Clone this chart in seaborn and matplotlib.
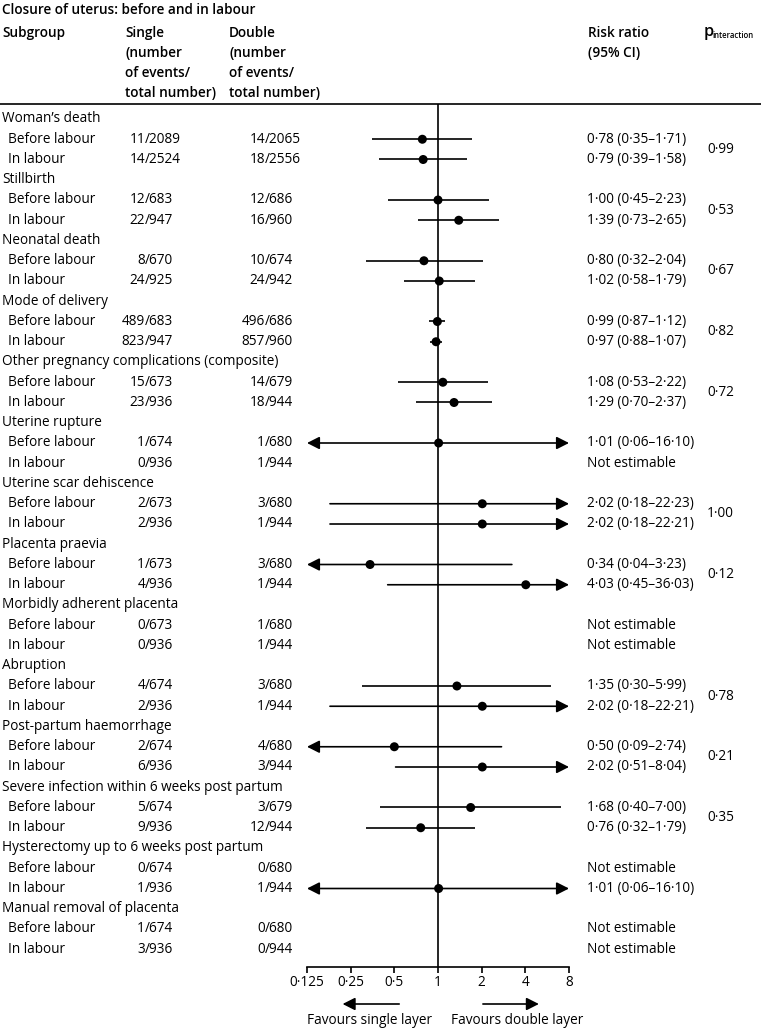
import numpy as np
import pandas as pd
import matplotlib
matplotlib.use("Agg")
import matplotlib.pyplot as plt
import matplotlib.transforms as mtransforms
from matplotlib.lines import Line2D
import seaborn as sns

# ---------------- data ----------------
groups = ["Woman\u2019s death", "Stillbirth", "Neonatal death", "Mode of delivery",
          "Other pregnancy complications (composite)", "Uterine rupture",
          "Uterine scar dehiscence", "Placenta praevia", "Morbidly adherent placenta",
          "Abruption", "Post-partum haemorrhage",
          "Severe infection within 6 weeks post partum",
          "Hysterectomy up to 6 weeks post partum", "Manual removal of placenta"]
subgroups = ["Before labour", "In labour"]

single_before_events = [11, 12, 8, 489, 15, 1, 2, 1, 0, 4, 2, 5, 0, 1]
single_before_totals = [2089, 683, 670, 683, 673, 674, 673, 673, 673, 674, 674, 674, 674, 674]
double_before_events = [14, 12, 10, 496, 14, 1, 3, 3, 1, 3, 4, 3, 0, 0]
double_before_totals = [2065, 686, 674, 686, 679, 680, 680, 680, 680, 680, 680, 679, 680, 680]
single_in_events = [14, 22, 24, 823, 23, 0, 2, 4, 0, 2, 6, 9, 1, 3]
single_in_totals = [2524, 947, 925, 947, 936, 936, 936, 936, 936, 936, 936, 936, 936, 936]
double_in_events = [18, 16, 24, 857, 18, 1, 1, 1, 1, 1, 3, 12, 1, 0]
double_in_totals = [2556, 960, 942, 960, 944, 944, 944, 944, 944, 944, 944, 944, 944, 944]

nan = np.nan
rr_before = [0.78, 1.00, 0.80, 0.99, 1.08, 1.01, 2.02, 0.34, nan, 1.35, 0.50, 1.68, nan, nan]
lo_before = [0.35, 0.45, 0.32, 0.87, 0.53, 0.06, 0.18, 0.04, nan, 0.30, 0.09, 0.40, nan, nan]
hi_before = [1.71, 2.23, 2.04, 1.12, 2.22, 16.10, 22.23, 3.23, nan, 5.99, 2.74, 7.00, nan, nan]
rr_in = [0.79, 1.39, 1.02, 0.97, 1.29, nan, 2.02, 4.03, nan, 2.02, 2.02, 0.76, 1.01, nan]
lo_in = [0.39, 0.73, 0.58, 0.88, 0.70, nan, 0.18, 0.45, nan, 0.18, 0.51, 0.32, 0.06, nan]
hi_in = [1.58, 2.65, 1.79, 1.07, 2.37, nan, 22.21, 36.03, nan, 22.21, 8.04, 1.79, 16.10, nan]
p_interaction = [0.99, 0.53, 0.67, 0.82, 0.72, nan, 1.00, 0.12, nan, 0.78, 0.21, 0.35, nan, nan]

x_ticks = [0.125, 0.25, 0.5, 1, 2, 4, 8]
x_tick_labels = ["0\u00b7125", "0\u00b725", "0\u00b75", "1", "2", "4", "8"]

title = "Closure of uterus: before and in labour"

# ---------------- table ----------------
recs = []
for i, g in enumerate(groups):
    recs.append(dict(row=3 * i, kind="group", label=g))
    recs.append(dict(row=3 * i + 1, kind="sub", label=subgroups[0],
                     s_ev=single_before_events[i], s_tot=single_before_totals[i],
                     d_ev=double_before_events[i], d_tot=double_before_totals[i],
                     rr=rr_before[i], lo=lo_before[i], hi=hi_before[i]))
    recs.append(dict(row=3 * i + 2, kind="sub", label=subgroups[1],
                     s_ev=single_in_events[i], s_tot=single_in_totals[i],
                     d_ev=double_in_events[i], d_tot=double_in_totals[i],
                     rr=rr_in[i], lo=lo_in[i], hi=hi_in[i]))
df = pd.DataFrame(recs)

def fmt(v):
    return f"{v:.2f}".replace(".", "\u00b7")

# ---------------- style ----------------
sns.set_theme(style="white")
plt.rcParams["font.family"] = ["Open Sans", "DejaVu Sans"]
plt.rcParams["text.color"] = "black"

W, H = 761, 1030
fig = plt.figure(figsize=(W / 100, H / 100), dpi=100)
fig.patch.set_facecolor("white")

FS = 9.8
LW = 1.2
ax_left, ax_right = 307, 569
ax_top, ax_bottom = 104, 967
row0_y, row_step = 119, 20.25

ax = fig.add_axes([ax_left / W, 1 - ax_bottom / H, (ax_right - ax_left) / W,
                   (ax_bottom - ax_top) / H])
ax.set_facecolor("none")
ax.set_xscale("log", base=2)
xmin, xmax = x_ticks[0], x_ticks[-1]
ax.set_xlim(xmin, xmax)
ax.set_ylim((ax_bottom - row0_y) / row_step, (ax_top - row0_y) / row_step)

ax.axvline(1, color="black", lw=LW, zorder=1)

# CIs
est = df[(df["kind"] == "sub") & df["rr"].notna()].copy()
for _, r in est.iterrows():
    lo_c = max(r["lo"], xmin)
    hi_c = min(r["hi"], xmax)
    left_arrow = r["lo"] < xmin
    right_arrow = r["hi"] > xmax
    if left_arrow and right_arrow:
        style = "<|-|>"
    elif left_arrow:
        style = "<|-"
    elif right_arrow:
        style = "-|>"
    else:
        style = None
    if style is None:
        ax.plot([lo_c, hi_c], [r["row"], r["row"]], color="black", lw=LW,
                solid_capstyle="butt", zorder=2)
    else:
        ax.annotate("", xy=(hi_c, r["row"]), xytext=(lo_c, r["row"]),
                    arrowprops=dict(arrowstyle=f"{style},head_length=0.75,head_width=0.38",
                                    mutation_scale=10, lw=LW, color="black",
                                    shrinkA=0, shrinkB=0), zorder=2)

sns.scatterplot(data=est, x="rr", y="row", ax=ax, color="black", s=42,
                edgecolor="none", legend=False, zorder=3, clip_on=False)

ax.set_xscale("log", base=2)
ax.set_xlim(xmin, xmax)
ax.set_ylim((ax_bottom - row0_y) / row_step, (ax_top - row0_y) / row_step)
for s in ["top", "left", "right"]:
    ax.spines[s].set_visible(False)
ax.spines["bottom"].set_linewidth(LW)
ax.spines["bottom"].set_color("black")
ax.set_yticks([])
ax.set_xticks(x_ticks)
ax.set_xticklabels(x_tick_labels, fontsize=FS)
ax.minorticks_off()
ax.tick_params(axis="x", direction="out", length=4.5, width=LW, color="black",
               pad=1.5, bottom=True, labelcolor="black")
ax.set_xlabel("")
ax.set_ylabel("")
ax.grid(False)

# ---------------- texts ----------------
tr = mtransforms.blended_transform_factory(fig.transFigure, ax.transData)

def fx(x):
    return x / W

def fy(y):
    return 1 - y / H

single_slash = 145
double_slash = 265
rr_x = 587
p_x = 707

for _, r in df.iterrows():
    y = r["row"]
    if r["kind"] == "group":
        fig.text(fx(2), y, r["label"], transform=tr, fontsize=FS, va="center", ha="left")
        continue
    fig.text(fx(8), y, r["label"], transform=tr, fontsize=FS, va="center", ha="left")
    fig.text(fx(single_slash), y, f"{int(r['s_ev'])}", transform=tr, fontsize=FS,
             va="center", ha="right")
    fig.text(fx(single_slash), y, f"/{int(r['s_tot'])}", transform=tr, fontsize=FS,
             va="center", ha="left")
    fig.text(fx(double_slash), y, f"{int(r['d_ev'])}", transform=tr, fontsize=FS,
             va="center", ha="right")
    fig.text(fx(double_slash), y, f"/{int(r['d_tot'])}", transform=tr, fontsize=FS,
             va="center", ha="left")
    if np.isnan(r["rr"]):
        lab = "Not estimable"
    else:
        lab = f"{fmt(r['rr'])} ({fmt(r['lo'])}\u2013{fmt(r['hi'])})"
    fig.text(fx(rr_x), y, lab, transform=tr, fontsize=FS, va="center", ha="left")

for i, p in enumerate(p_interaction):
    if not np.isnan(p):
        fig.text(fx(p_x), 3 * i + 1.5, fmt(p), transform=tr, fontsize=FS,
                 va="center", ha="left")

# header
fig.text(fx(2), fy(10), title, fontsize=FS, weight="semibold", va="center", ha="left")
fig.text(fx(2), fy(33), "Subgroup", fontsize=FS, weight="semibold", va="center", ha="left")
for k, line in enumerate(["Single", "(number", "of events/", "total number)"]):
    fig.text(fx(125), fy(33 + 20 * k), line, fontsize=FS, weight="semibold", va="center", ha="left")
for k, line in enumerate(["Double", "(number", "of events/", "total number)"]):
    fig.text(fx(229), fy(33 + 20 * k), line, fontsize=FS, weight="semibold", va="center", ha="left")
fig.text(fx(588), fy(33), "Risk ratio", fontsize=FS, weight="semibold", va="center", ha="left")
fig.text(fx(588), fy(53), "(95% CI)", fontsize=FS, weight="semibold", va="center", ha="left")
fig.text(fx(704), fy(32), "p", fontsize=FS + 2, weight="semibold", va="center", ha="left")
fig.text(fx(712.5), fy(35), "interaction", fontsize=FS - 4.2, weight="semibold",
         va="center", ha="left")

fig.add_artist(Line2D([0, 1], [fy(ax_top), fy(ax_top)], transform=fig.transFigure,
                      color="black", lw=LW))

# favours arrows
trb = mtransforms.blended_transform_factory(ax.transData, fig.transFigure)
fav_left = (0.54, 0.22)
fav_right = (2.04, 4.96)
for a, b in [fav_left, fav_right]:
    ax.annotate("", xy=(b, fy(1004)), xytext=(a, fy(1004)),
                xycoords=trb, textcoords=trb, annotation_clip=False,
                arrowprops=dict(arrowstyle="-|>,head_length=0.75,head_width=0.38",
                                mutation_scale=10, lw=LW, color="black", shrinkA=0, shrinkB=0))
fig.text(fx(370), fy(1021), "Favours single layer", fontsize=FS, va="center", ha="center")
fig.text(fx(517), fy(1021), "Favours double layer", fontsize=FS, va="center", ha="center")

fig.savefig("out.png", dpi=100, facecolor="white")
